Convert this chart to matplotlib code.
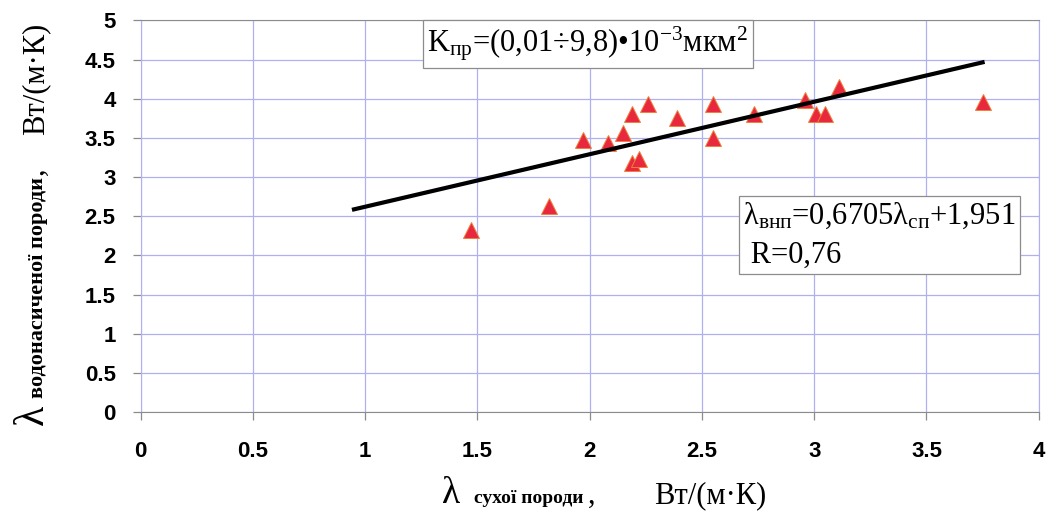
import numpy as np
import matplotlib
matplotlib.use("Agg")
import matplotlib.pyplot as plt

# thermal conductivity: dry rock vs water saturated rock, W/(m*K)
lam_dry = [1.47, 1.82, 1.97, 2.08, 2.15, 2.19, 2.26, 2.19, 2.22, 2.39,
           2.55, 2.55, 2.73, 2.96, 3.01, 3.05, 3.11, 3.75]
lam_wet = [2.33, 2.63, 3.48, 3.43, 3.56, 3.81, 3.93, 3.18, 3.23, 3.76,
           3.93, 3.50, 3.81, 3.98, 3.81, 3.81, 4.15, 3.96]

# trend line from the equation in the chart
slope, intercept = 0.6705, 1.951
trend_x = [0.95, 3.75]

x_ticks = [0, 0.5, 1, 1.5, 2, 2.5, 3, 3.5, 4]
y_ticks = [0, 0.5, 1, 1.5, 2, 2.5, 3, 3.5, 4, 4.5, 5]

plt.rcParams['mathtext.fontset'] = 'custom'
plt.rcParams['mathtext.rm'] = 'Liberation Serif'
plt.rcParams['mathtext.it'] = 'Liberation Serif:italic'
plt.rcParams['mathtext.bf'] = 'Liberation Serif:bold'

grid_col = '#b0b0f0'
axis_col = '#8c8c8c'
serif = 'Liberation Serif'

fig = plt.figure(figsize=(10.51, 5.28), dpi=100)
ax = fig.add_axes([0.1339, 0.2197, 0.8544, 0.7415])

ax.plot(lam_dry, lam_wet, linestyle='none', marker='^', markersize=12,
        markerfacecolor='#e8283c', markeredgecolor='#f0803c',
        markeredgewidth=0.7, zorder=3)
tx = np.array(trend_x)
ax.plot(tx, slope * tx + intercept, color='black', lw=3, zorder=4)

ax.set_xlim(0, 4)
ax.set_ylim(0, 5)
ax.set_xticks(x_ticks)
ax.set_yticks(y_ticks)
ax.set_xticklabels([f'{v:g}' for v in x_ticks])
ax.set_yticklabels([f'{v:g}' for v in y_ticks])
ax.grid(True, color=grid_col, lw=0.9)
ax.set_axisbelow(True)
for s in ['top', 'bottom']:
    ax.spines[s].set_color(axis_col)
for s in ['left', 'right']:
    ax.spines[s].set_color(grid_col)
ax.tick_params(direction='out', length=6, color=axis_col, width=0.9)
ax.tick_params(axis='x', pad=15)
ax.tick_params(axis='y', pad=12)
for lbl in ax.get_xticklabels() + ax.get_yticklabels():
    lbl.set_fontfamily('Liberation Sans')
    lbl.set_fontweight('bold')
    lbl.set_fontsize(16)


# axis labels built from pieces of different size (lambda, small subscript, units)
def label_pieces(pieces, x0, y0, vertical=False):
    prev = None
    for text, size, weight, gap in pieces:
        kw = dict(fontsize=size, fontfamily=serif, fontweight=weight,
                  ha='left', va='baseline')
        if vertical:
            kw.update(rotation=90, rotation_mode='anchor')
        if prev is None:
            prev = fig.text(x0, y0, text, **kw)
        elif vertical:
            prev = ax.annotate(
                text, xy=(x0, 1), xycoords=('figure fraction', prev),
                xytext=(0, gap), textcoords='offset points', **kw)
        else:
            prev = ax.annotate(
                text, xy=(1, y0), xycoords=(prev, 'figure fraction'),
                xytext=(gap, 0), textcoords='offset points', **kw)


label_pieces([('λ', 27, 'normal', 0),
              ('сухої породи', 14, 'bold', 10),
              (',', 22, 'normal', 3),
              ('Вт/(м·К)', 22, 'normal', 42)],
             0.4206, 0.0473)
label_pieces([('λ', 30, 'normal', 0),
              ('водонасиченої породи', 16, 'bold', 5),
              (',', 22, 'normal', 1),
              ('Вт/(м·К)', 22, 'normal', 24)],
             0.041, 0.195, vertical=True)

box = dict(boxstyle='square,pad=0.15', facecolor='white', edgecolor=axis_col, lw=0.9)
ax.text(0.319, 0.990,
        r'K$_{\mathrm{пр}}$=(0,01÷9,8)•10$^{\mathrm{-3}}$мкм$^{\mathrm{2}}$',
        transform=ax.transAxes, ha='left', va='top', fontsize=22,
        fontfamily=serif, bbox=box, zorder=5)
ax.text(0.671, 0.540,
        r'$\mathrm{λ}_{\mathrm{внп}}$=0,6705$\mathrm{λ}_{\mathrm{сп}}$+1,951' + '\n R=0,76',
        transform=ax.transAxes, ha='left', va='top', fontsize=22,
        fontfamily=serif, linespacing=1.45, bbox=box, zorder=5)

fig.savefig('out.png', dpi=100, facecolor='white')
